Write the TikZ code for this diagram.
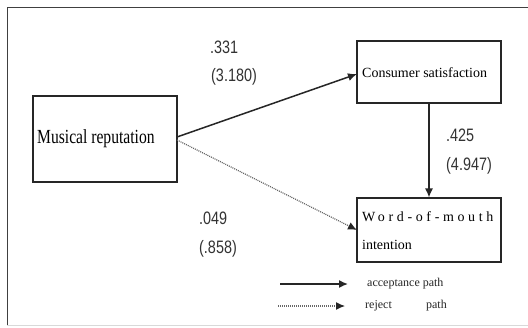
\documentclass[tikz,border=0pt]{standalone}
\usepackage{fontspec}
\setmainfont{Liberation Serif}
\newfontfamily\boxfont[FakeStretch=0.78]{Liberation Serif}
\newfontfamily\numfont[FakeStretch=0.8]{Liberation Sans}
\newfontfamily\spacedfont[LetterSpace=26]{Liberation Serif}
\usetikzlibrary{arrows.meta}
\begin{document}
\begin{tikzpicture}[x=1pt,y=-1pt,
  varbox/.style={draw=black!85,line width=1.2pt,inner sep=0pt},
  num/.style={font=\numfont\fontsize{18}{18}\selectfont,anchor=west,inner sep=0pt,text=black!80},
  accpath/.style={line width=1.5pt,black!85,-{Latex[length=9pt,width=8pt]}},
  rejpath/.style={line width=1.2pt,black!60,dash pattern=on 1pt off 1pt,-{Latex[length=9pt,width=8pt,color=black!85]}},
  lbl/.style={font=\fontsize{12}{12}\selectfont,inner sep=0pt,text=black!85}]
\useasboundingbox (0,0) rectangle (528,327);
\fill[white] (0,0) rectangle (528,327);
% frame
\draw[black!75,line width=1pt] (7,325) -- (7,7) -- (528,7);
\draw[black!15,line width=1pt] (7,325) -- (528,325);
% boxes
\node[varbox,minimum width=144pt,minimum height=86pt] (mr) at (105,139) {};
\node[font=\boxfont\fontsize{20}{20}\selectfont,anchor=west,inner sep=0pt] (mrt) at (37,139) {Musical reputation};
\node[varbox,minimum width=144pt,minimum height=62pt] (cs) at (429,72) {};
\node[font=\fontsize{14}{14}\selectfont,anchor=west,inner sep=0pt] (cst) at (362,73) {Consumer satisfaction};
\node[varbox,minimum width=144pt,minimum height=64pt] (wm) at (429,230) {};
\node[font=\spacedfont\fontsize{14}{14}\selectfont,anchor=west,inner sep=0pt] (wmt1) at (362,217) {Word-of-mouth};
\node[font=\fontsize{14}{14}\selectfont,anchor=west,inner sep=0pt] (wmt2) at (362,245) {intention};
% paths
\coordinate (mrs) at (177,137);
\coordinate (mrd) at (177,140);
\coordinate (cse) at (357,74);
\coordinate (wme) at (357,230);
\draw[accpath] (mrs) -- (cse);
\draw[rejpath] (mrd) -- (wme);
\draw[accpath,line width=1.2pt] (cs.south) -- (wm.north);
% coefficients
\node[num] (n1) at (210,47) {.331};
\node[num] (n2) at (211,77) {(3.180)};
\node[num] (n3) at (446,135) {.425};
\node[num] (n4) at (446,166) {(4.947)};
\node[num] (n5) at (199,218) {.049};
\node[num] (n6) at (199,249) {(.858)};
% legend
\coordinate (l1a) at (280,284);
\coordinate (l1b) at (348,284);
\coordinate (l2a) at (278,306);
\coordinate (l2b) at (345,306);
\draw[accpath] (l1a) -- (l1b);
\draw[rejpath] (l2a) -- (l2b);
\node[lbl,anchor=west] (la) at (367,284) {acceptance path};
\node[lbl,anchor=west] (lr) at (365,306) {reject};
\node[lbl,anchor=east] (lp) at (447,306) {path};
\end{tikzpicture}
\end{document}
